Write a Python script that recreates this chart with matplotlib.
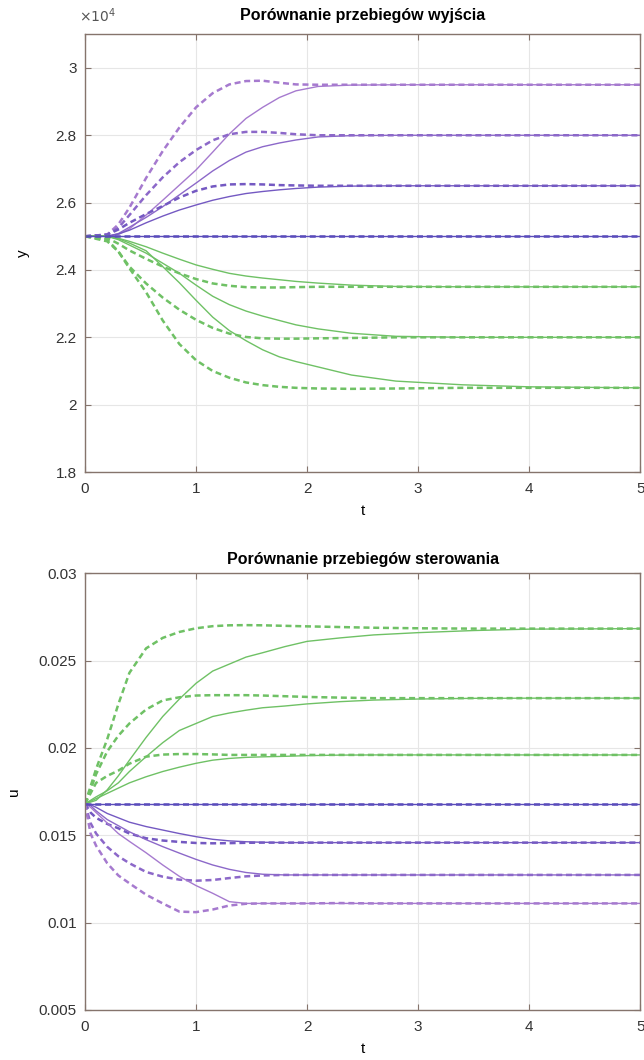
import numpy as np
import matplotlib
matplotlib.use('Agg')
import matplotlib.pyplot as plt
from matplotlib.ticker import FuncFormatter

plt.rcParams['font.family'] = ['Liberation Sans', 'DejaVu Sans']

# ---- top plot: output y (in units of 1e4) ----
t1 = [0, 0.2, 0.3, 0.4, 0.55, 0.7, 0.85, 1.0, 1.15, 1.3, 1.45, 1.6, 1.75, 1.9, 2.1, 2.4, 2.8, 3.4, 4.0, 5.0]

y_p3_dash = [2.5, 2.505, 2.535, 2.585, 2.673, 2.753, 2.823, 2.883, 2.925, 2.951, 2.961, 2.962, 2.956, 2.951, 2.95, 2.95, 2.95, 2.95, 2.95, 2.95]
y_p3_sol = [2.5, 2.5, 2.505, 2.522, 2.563, 2.607, 2.652, 2.697, 2.75, 2.804, 2.85, 2.883, 2.912, 2.932, 2.945, 2.949, 2.95, 2.95, 2.95, 2.95]
y_p2_dash = [2.5, 2.505, 2.525, 2.563, 2.622, 2.675, 2.72, 2.756, 2.785, 2.803, 2.81, 2.81, 2.807, 2.803, 2.8, 2.8, 2.8, 2.8, 2.8, 2.8]
y_p2_sol = [2.5, 2.5, 2.508, 2.527, 2.556, 2.588, 2.623, 2.658, 2.694, 2.725, 2.75, 2.766, 2.777, 2.786, 2.795, 2.799, 2.8, 2.8, 2.8, 2.8]
y_p1_dash = [2.5, 2.505, 2.52, 2.54, 2.566, 2.59, 2.615, 2.635, 2.648, 2.654, 2.655, 2.654, 2.652, 2.651, 2.65, 2.65, 2.65, 2.65, 2.65, 2.65]
y_p1_sol = [2.5, 2.5, 2.507, 2.518, 2.54, 2.56, 2.578, 2.593, 2.607, 2.618, 2.627, 2.633, 2.638, 2.642, 2.646, 2.649, 2.65, 2.65, 2.65, 2.65]
y_const = [2.5] * 20
y_g1_dash = [2.5, 2.495, 2.478, 2.458, 2.433, 2.41, 2.39, 2.373, 2.36, 2.353, 2.349, 2.348, 2.348, 2.349, 2.35, 2.35, 2.35, 2.35, 2.35, 2.35]
y_g1_sol = [2.5, 2.5, 2.494, 2.485, 2.469, 2.45, 2.432, 2.415, 2.402, 2.39, 2.382, 2.376, 2.371, 2.366, 2.361, 2.355, 2.351, 2.35, 2.35, 2.35]
y_g2_dash = [2.5, 2.49, 2.455, 2.41, 2.36, 2.318, 2.282, 2.252, 2.228, 2.211, 2.201, 2.197, 2.196, 2.196, 2.197, 2.198, 2.2, 2.2, 2.2, 2.2]
y_g2_sol = [2.5, 2.5, 2.49, 2.474, 2.45, 2.42, 2.39, 2.355, 2.322, 2.297, 2.278, 2.263, 2.25, 2.237, 2.225, 2.212, 2.203, 2.2, 2.2, 2.2]
y_g3_dash = [2.5, 2.485, 2.455, 2.405, 2.334, 2.25, 2.18, 2.132, 2.1, 2.08, 2.066, 2.058, 2.053, 2.05, 2.048, 2.047, 2.048, 2.05, 2.05, 2.05]
y_g3_sol = [2.5, 2.5, 2.493, 2.48, 2.457, 2.41, 2.362, 2.31, 2.26, 2.22, 2.19, 2.163, 2.142, 2.128, 2.112, 2.088, 2.07, 2.059, 2.053, 2.05]

# ---- bottom plot: control u ----
t2 = [0, 0.05, 0.1, 0.2, 0.3, 0.4, 0.55, 0.7, 0.85, 1.0, 1.15, 1.3, 1.45, 1.6, 1.8, 2.0, 2.3, 2.6, 3.0, 3.5, 4.0, 5.0]

u_g3_dash = [0.0168, 0.0178, 0.0188, 0.0205, 0.0225, 0.0243, 0.0257, 0.0263, 0.02664, 0.02685, 0.02697, 0.02702, 0.02703, 0.02702, 0.02699, 0.02696, 0.02692, 0.02688, 0.02685, 0.02683, 0.02683, 0.02683]
u_g3_sol = [0.0168, 0.0169, 0.0170, 0.0176, 0.0184, 0.0193, 0.0206, 0.0218, 0.0228, 0.0237, 0.0244, 0.0248, 0.0252, 0.02545, 0.0258, 0.0261, 0.0263, 0.02647, 0.0266, 0.02672, 0.0268, 0.02683]
u_g2_dash = [0.0168, 0.0176, 0.0185, 0.0198, 0.0207, 0.0214, 0.0222, 0.02272, 0.0229, 0.0230, 0.02302, 0.02302, 0.02302, 0.0230, 0.02296, 0.02292, 0.02288, 0.02285, 0.02285, 0.02285, 0.02285, 0.02285]
u_g2_sol = [0.0168, 0.0170, 0.0172, 0.01755, 0.0180, 0.01865, 0.0195, 0.0203, 0.0210, 0.0214, 0.0218, 0.0220, 0.02216, 0.0223, 0.0224, 0.02252, 0.02265, 0.02274, 0.0228, 0.02284, 0.02285, 0.02285]
u_g1_dash = [0.0168, 0.0174, 0.0180, 0.0184, 0.0187, 0.0191, 0.0195, 0.01962, 0.01965, 0.01965, 0.01963, 0.0196, 0.0196, 0.0196, 0.0196, 0.0196, 0.0196, 0.0196, 0.0196, 0.0196, 0.0196, 0.0196]
u_g1_sol = [0.0168, 0.01695, 0.0171, 0.0174, 0.0177, 0.0180, 0.01835, 0.01865, 0.0189, 0.01912, 0.0193, 0.0194, 0.01946, 0.01949, 0.01952, 0.01956, 0.01959, 0.0196, 0.0196, 0.0196, 0.0196, 0.0196]
u_const = [0.0168] * 22
u_p1_dash = [0.0168, 0.0163, 0.0160, 0.01565, 0.0154, 0.0151, 0.01483, 0.0147, 0.01462, 0.01456, 0.01454, 0.01455, 0.01457, 0.01458, 0.01458, 0.01458, 0.01458, 0.01458, 0.01458, 0.01458, 0.01458, 0.01458]
u_p1_sol = [0.0168, 0.01675, 0.0166, 0.01625, 0.0160, 0.01575, 0.0155, 0.0153, 0.0151, 0.01492, 0.01477, 0.01468, 0.01463, 0.0146, 0.01458, 0.01458, 0.01458, 0.01458, 0.01458, 0.01458, 0.01458, 0.01458]
u_p2_dash = [0.0168, 0.0157, 0.0151, 0.01434, 0.0138, 0.0134, 0.0129, 0.01263, 0.01246, 0.0124, 0.01244, 0.01255, 0.01265, 0.0127, 0.01273, 0.01273, 0.01273, 0.01273, 0.01273, 0.01273, 0.01273, 0.01273]
u_p2_sol = [0.0168, 0.0167, 0.0164, 0.0159, 0.01555, 0.0152, 0.01475, 0.01435, 0.01398, 0.01362, 0.0133, 0.01305, 0.01287, 0.01277, 0.01273, 0.01273, 0.01273, 0.01273, 0.01273, 0.01273, 0.01273, 0.01273]
u_p3_dash = [0.0168, 0.0151, 0.0144, 0.0134, 0.0127, 0.01225, 0.0116, 0.0111, 0.01063, 0.0106, 0.01075, 0.01098, 0.01108, 0.0111, 0.0111, 0.0111, 0.01112, 0.0111, 0.0111, 0.0111, 0.0111, 0.0111]
u_p3_sol = [0.0168, 0.0166, 0.0163, 0.0157, 0.0151, 0.01465, 0.0140, 0.0133, 0.01265, 0.01212, 0.01168, 0.0112, 0.0111, 0.0111, 0.0111, 0.0111, 0.0111, 0.0111, 0.0111, 0.0111, 0.0111, 0.0111]

GREEN = '#6fc165'
PURP3 = '#a67acf'
PURP2 = '#8c68c9'
PURP1 = '#7459c2'
BLUE = '#5a4cbb'
AXC = '#85746c'
DASH = (0, (2.4, 1.5))

fig = plt.figure(figsize=(6.44, 10.6), dpi=100)
ax1 = fig.add_axes([0.132, 0.5547, 0.862, 0.413])
ax2 = fig.add_axes([0.132, 0.0472, 0.862, 0.412])


def pair(ax, t, sol, dash, col):
    ax.plot(t, sol, color=col, lw=1.0)
    ax.plot(t, dash, color=col, lw=1.8, ls=DASH)


s = 1e4
pair(ax1, t1, np.array(y_p3_sol) * s, np.array(y_p3_dash) * s, PURP3)
pair(ax1, t1, np.array(y_p2_sol) * s, np.array(y_p2_dash) * s, PURP2)
pair(ax1, t1, np.array(y_p1_sol) * s, np.array(y_p1_dash) * s, PURP1)
pair(ax1, t1, np.array(y_g1_sol) * s, np.array(y_g1_dash) * s, GREEN)
pair(ax1, t1, np.array(y_g2_sol) * s, np.array(y_g2_dash) * s, GREEN)
pair(ax1, t1, np.array(y_g3_sol) * s, np.array(y_g3_dash) * s, GREEN)
pair(ax1, t1, np.array(y_const) * s, np.array(y_const) * s, BLUE)

pair(ax2, t2, u_g3_sol, u_g3_dash, GREEN)
pair(ax2, t2, u_g2_sol, u_g2_dash, GREEN)
pair(ax2, t2, u_g1_sol, u_g1_dash, GREEN)
pair(ax2, t2, u_p1_sol, u_p1_dash, PURP1)
pair(ax2, t2, u_p2_sol, u_p2_dash, PURP2)
pair(ax2, t2, u_p3_sol, u_p3_dash, PURP3)
pair(ax2, t2, u_const, u_const, BLUE)

ax1.set_xlim(0, 5)
ax1.set_ylim(18000, 31000)
ax1.set_yticks(np.arange(18000, 30001, 2000))
ax1.yaxis.set_major_formatter(FuncFormatter(lambda v, p: f'{v / 1e4:g}'))
ax1.text(-0.01, 1.022, r'$\times10^4$', transform=ax1.transAxes, fontsize=10,
         color='#555555', ha='left', va='bottom')
ax1.set_title('Porównanie przebiegów wyjścia', fontsize=11.5, fontweight='bold', pad=10)
ax1.set_ylabel('y', fontsize=11)
ax1.yaxis.set_label_coords(-0.1, 0.5)

ax2.set_xlim(0, 5)
ax2.set_ylim(0.005, 0.03)
ax2.set_yticks(np.arange(0.005, 0.0301, 0.005))
ax2.yaxis.set_major_formatter(FuncFormatter(lambda v, p: f'{v:g}'))
ax2.set_title('Porównanie przebiegów sterowania', fontsize=11.5, fontweight='bold', pad=7)
ax2.set_ylabel('u', fontsize=11)
ax2.yaxis.set_label_coords(-0.115, 0.5)

for ax in (ax1, ax2):
    ax.set_xticks(range(6))
    ax.set_xlabel('t', fontsize=11, labelpad=6)
    ax.grid(True, color='#e6e6e6', lw=0.8)
    ax.set_axisbelow(True)
    for sp in ax.spines.values():
        sp.set_color(AXC)
        sp.set_linewidth(1.0)
    ax.tick_params(direction='in', length=4, color=AXC, labelsize=11,
                   top=True, right=True, labelcolor='#333333')
    ax.tick_params(axis='x', pad=7)
    ax.tick_params(axis='y', pad=6)

fig.savefig('out.png', dpi=100)
